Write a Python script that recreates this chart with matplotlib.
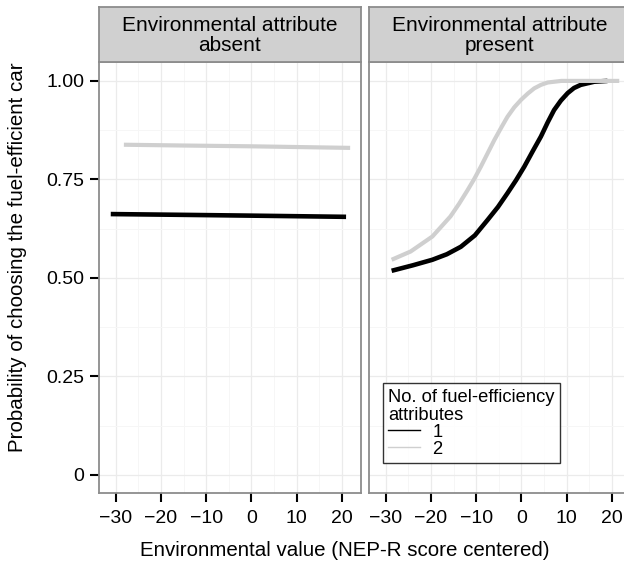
import numpy as np
import matplotlib
matplotlib.use("Agg")
import matplotlib.pyplot as plt
from matplotlib.ticker import MultipleLocator

plt.rcParams['font.family'] = ['Liberation Sans', 'DejaVu Sans']

# left panel: environmental attribute absent
absent_x1 = [-31.1, -15.0, 0.0, 20.9]
absent_y1 = [0.662, 0.660, 0.658, 0.655]
absent_x2 = [-28.2, -15.0, 0.0, 21.8]
absent_y2 = [0.838, 0.836, 0.834, 0.830]

# right panel: environmental attribute present
present_x1 = [-28.7, -24.0, -19.7, -16.5, -13.4, -10.3, -7.5, -5.2, -3.1, -1.2,
              0.6, 2.5, 4.3, 5.8, 7.2, 8.7, 10.2, 11.6, 13.1, 16.1, 19.0]
present_y1 = [0.518, 0.532, 0.546, 0.560, 0.579, 0.608, 0.647, 0.680, 0.715, 0.748,
              0.782, 0.822, 0.859, 0.895, 0.926, 0.950, 0.969, 0.982, 0.990, 0.998, 1.0]
present_x2 = [-28.7, -24.5, -19.7, -15.7, -13.8, -11.9, -10.4, -9.0, -7.5, -6.0,
              -4.5, -3.1, -1.6, -0.1, 1.4, 2.8, 4.3, 5.8, 8.8, 21.6]
present_y2 = [0.546, 0.567, 0.605, 0.656, 0.688, 0.723, 0.752, 0.782, 0.816, 0.850,
              0.881, 0.909, 0.933, 0.952, 0.968, 0.981, 0.990, 0.996, 1.0, 1.0]

strip_labels = ["Environmental attribute\nabsent", "Environmental attribute\npresent"]
xticks = [-30, -20, -10, 0, 10, 20]
yticks = [0, 0.25, 0.5, 0.75, 1.0]
yticklabels = ["0", "0.25", "0.50", "0.75", "1.00"]
legend_labels = ["1", "2"]
col1 = "black"
col2 = "#cfcfcf"

W, H = 624, 567
fig = plt.figure(figsize=(W / 100, H / 100), dpi=100)

def fx(px):
    return px / W

def fy(py):
    return 1 - py / H

panel_w = 262
panel_top, panel_bot = 62, 493
strip_top = 7
lefts = [99, 369]

border = "#8c8c8c"
axes = []
for i, left in enumerate(lefts):
    ax = fig.add_axes([fx(left), fy(panel_bot), panel_w / W, (panel_bot - panel_top) / H])
    ax.set_xlim(-33.7, 24.2)
    ax.set_ylim(-0.046, 1.048)
    ax.xaxis.set_major_locator(MultipleLocator(10))
    ax.xaxis.set_minor_locator(MultipleLocator(5))
    ax.set_yticks(yticks)
    ax.yaxis.set_minor_locator(MultipleLocator(0.125))
    ax.grid(which='major', color='#ebebeb', lw=0.9)
    ax.grid(which='minor', color='#f6f6f6', lw=0.7)
    ax.set_axisbelow(True)
    for s in ax.spines.values():
        s.set_color(border)
        s.set_linewidth(1.3)
    ax.tick_params(which='major', direction='out', length=6.5, width=1.5, color='black',
                   labelsize=14, pad=4)
    ax.tick_params(axis='x', which='major', pad=6)
    ax.tick_params(which='minor', length=0)
    ax.set_xticks(xticks)
    if i == 0:
        ax.set_yticklabels(yticklabels)
    else:
        ax.tick_params(axis='y', which='major', left=False, labelleft=False)

    # strip
    sax = fig.add_axes([fx(left), fy(panel_top), panel_w / W, (panel_top - strip_top) / H])
    sax.set_facecolor('#d0d0d0')
    sax.set_xticks([])
    sax.set_yticks([])
    for s in sax.spines.values():
        s.set_color(border)
        s.set_linewidth(1.3)
    sax.text(0.5, 0.48, strip_labels[i], ha='center', va='center', fontsize=15,
             linespacing=1.05, transform=sax.transAxes)
    axes.append(ax)

ax1, ax2 = axes
ax1.plot(absent_x1, absent_y1, color=col1, lw=3.3, solid_capstyle='butt')
ax1.plot(absent_x2, absent_y2, color=col2, lw=3.0, solid_capstyle='butt')
ax2.plot(present_x1, present_y1, color=col1, lw=3.3, solid_capstyle='butt')
ax2.plot(present_x2, present_y2, color=col2, lw=3.0, solid_capstyle='butt')

h1, = ax2.plot([], [], color=col1, lw=1.0)
h2, = ax2.plot([], [], color=col2, lw=1.0)
leg = ax2.legend([h1, h2], legend_labels, title="No. of fuel-efficiency\nattributes",
                 loc='upper left', bbox_to_anchor=(0.053, 0.255), fontsize=13.2,
                 title_fontsize=13.2, frameon=True, fancybox=False, handlelength=1.7,
                 handletextpad=0.7, labelspacing=0.0, borderpad=0.3, borderaxespad=0)
leg._legend_box.align = "left"
leg.get_title().set_linespacing(1.1)
leg.get_frame().set_edgecolor('black')
leg.get_frame().set_linewidth(1.0)

fig.text(fx(18), fy(257), "Probability of choosing the fuel-efficient car", rotation=90,
         ha='center', va='center', fontsize=14.8)
fig.text(fx(345), fy(551), "Environmental value (NEP-R score centered)",
         ha='center', va='center', fontsize=14.8)

fig.savefig("out.png", dpi=100)
